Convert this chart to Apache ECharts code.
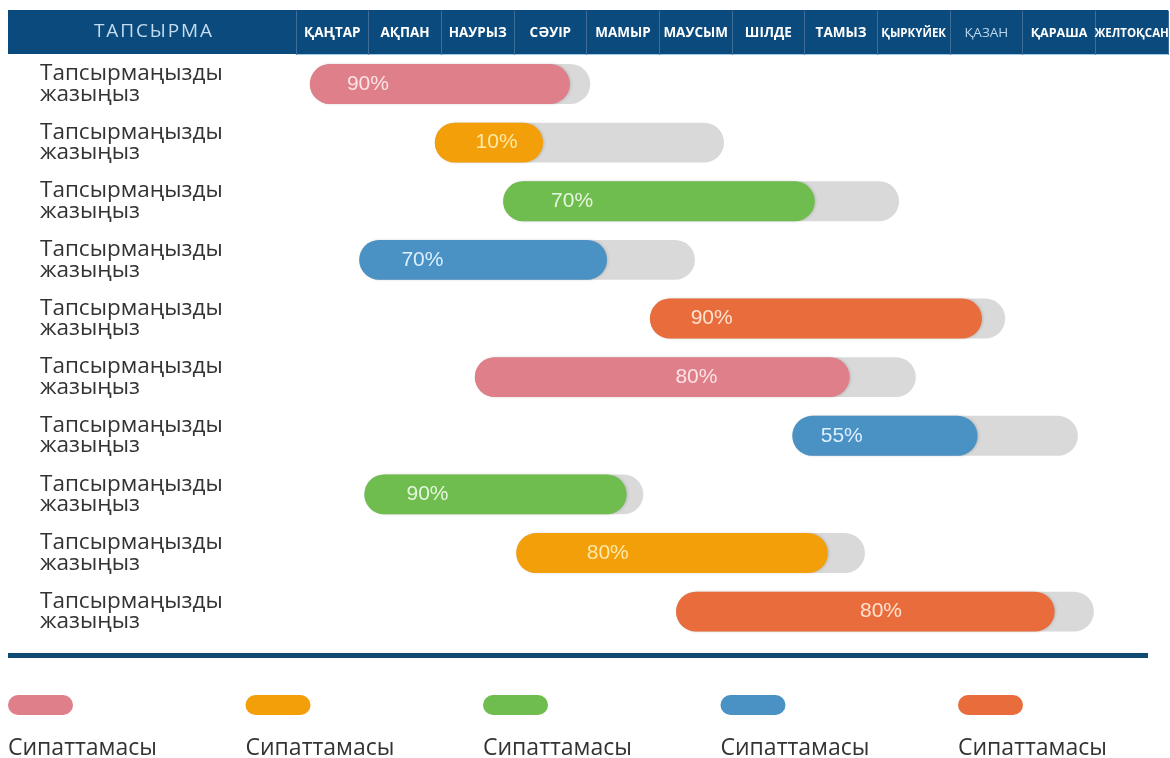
<!DOCTYPE html>
<html>
<head>
<meta charset="utf-8">
<script src="https://cdn.jsdelivr.net/npm/echarts@6/dist/echarts.min.js"></script>
<style>html,body{margin:0;padding:0;background:#fff}#c{width:1170px;height:758px}</style>
</head>
<body>
<div id="c"></div>
<script>
// ---- data ----
var headerTitle = 'ТАПСЫРМА';
var months = ['ҚАҢТАР','АҚПАН','НАУРЫЗ','СӘУІР','МАМЫР','МАУСЫМ','ШІЛДЕ','ТАМЫЗ','ҚЫРКҮЙЕК','ҚАЗАН','ҚАРАША','ЖЕЛТОҚСАН'];
var tasks = ['Тапсырмаңызды жазыңыз','Тапсырмаңызды жазыңыз','Тапсырмаңызды жазыңыз','Тапсырмаңызды жазыңыз','Тапсырмаңызды жазыңыз',
             'Тапсырмаңызды жазыңыз','Тапсырмаңызды жазыңыз','Тапсырмаңызды жазыңыз','Тапсырмаңызды жазыңыз','Тапсырмаңызды жазыңыз'];
// in months from start of January
var startMonth = [0.19, 1.91, 2.85, 0.87, 4.87, 2.46, 6.83, 0.94, 3.03, 5.23];
var endMonth   = [4.05, 5.89, 8.30, 5.49, 9.76, 8.53, 10.76, 4.78, 7.83, 10.98];
var doneMonth  = [3.77, 3.40, 7.14, 4.28, 9.44, 7.62, 9.38, 4.55, 7.32, 10.44];
var percent    = [90, 10, 70, 70, 90, 80, 55, 90, 80, 80];
var labelAt    = [0.99, 2.76, 3.80, 1.74, 5.72, 5.51, 7.51, 1.81, 4.29, 8.05];
var group      = [0, 1, 2, 3, 4, 0, 3, 2, 1, 4];
var legendNames = ['Сипаттамасы','Сипаттамасы','Сипаттамасы','Сипаттамасы','Сипаттамасы'];

// ---- styles ----
var palette = ['#df7f89', '#f39f0a', '#6fbd4f', '#4a91c4', '#e96c3c'];
var labelColors = ['#fbe3e6', '#ffe9a8', '#e6f6dd', '#dcefff', '#ffe2cf'];
var headerBlue = '#0b4a7c';
var monthFontSize = { 'ҚЫРКҮЙЕК': 11.5, 'ЖЕЛТОҚСАН': 11.5, 'ҚАЗАН': 13.5, 'ҚАРАША': 12.5 };

var chart = echarts.init(document.getElementById('c'));
var seriesData = tasks.map(function (t, i) {
  return [i, startMonth[i], endMonth[i], doneMonth[i], percent[i], labelAt[i], group[i]];
});

var graphics = [
  { type: 'rect', z: -10, shape: { x: 8, y: 10, width: 1160, height: 44 }, style: { fill: headerBlue } },
  { type: 'text', z: 10, x: 153, y: 32, style: { text: headerTitle.split('').join('\u200A'), fill: '#c3dcef', font: '19px "Open Sans"', align: 'center', verticalAlign: 'middle' } },
  { type: 'rect', shape: { x: 8, y: 653, width: 1140, height: 5 }, style: { fill: '#0f4a73' } }
];
legendNames.forEach(function (n, i) {
  var x = 8 + 237.5 * i;
  graphics.push({ type: 'rect', shape: { x: x, y: 695, width: 65, height: 20, r: 10 }, style: { fill: palette[i] } });
  graphics.push({ type: 'text', x: x, y: 748, style: { text: n, fill: '#333', font: '23px "Open Sans"', align: 'left', verticalAlign: 'middle' } });
});

chart.setOption({
  animation: false,
  grid: { left: 296, right: 2, top: 54.7, bottom: 117, outerBoundsMode: 'none', containLabel: false },
  xAxis: [
    { type: 'value', min: 0, max: 12, show: false },
    { type: 'category', position: 'top', data: months.map(function (m) {
        var ts = {};
        if (monthFontSize[m]) ts.fontSize = monthFontSize[m];
        if (m === 'ҚАЗАН') { ts.fontWeight = 'normal'; ts.color = '#b9d6ee'; }
        return { value: m, textStyle: ts };
      }),
      boundaryGap: true,
      axisLine: { show: true, lineStyle: { color: '#9fcbe8', width: 1 } },
      axisTick: { show: true, length: 44, interval: 0, lineStyle: { color: '#3d6d98', width: 1 } },
      axisLabel: { interval: 0, margin: 15, color: '#ffffff', fontFamily: 'Open Sans', fontWeight: 'bold', fontSize: 13.5 },
      splitLine: { show: false }
    }
  ],
  yAxis: {
    type: 'category', data: tasks, inverse: true,
    axisLine: { show: false }, axisTick: { show: false }, splitLine: { show: false },
    axisLabel: {
      interval: 0, align: 'left', margin: 256, color: '#333', fontFamily: 'Open Sans', fontSize: 22.5, lineHeight: 20.5,
      padding: [6, 0, 0, 0],
      formatter: function (v) { return v.replace(' ', '\n'); }
    }
  },
  graphic: graphics,
  series: [{
    type: 'custom',
    xAxisIndex: 0,
    encode: { x: [1, 2, 3, 5], y: 0 },
    data: seriesData,
    renderItem: function (params, api) {
      var row = api.value(0);
      var y = api.coord([0, row])[1];
      var x0 = api.coord([api.value(1), row])[0];
      var x1 = api.coord([api.value(2), row])[0];
      var xp = api.coord([api.value(3), row])[0];
      var xl = api.coord([api.value(5), row])[0];
      var g = api.value(6);
      var h = api.size([0, 1])[1] * 0.68;
      return {
        type: 'group',
        children: [
          { type: 'rect', shape: { x: x0, y: y - h / 2, width: x1 - x0, height: h, r: h / 2 }, style: { fill: '#d9d9d9' } },
          { type: 'rect', shape: { x: x0, y: y - h / 2, width: xp - x0, height: h, r: h / 2 }, style: { fill: palette[g], shadowBlur: 3, shadowColor: 'rgba(0,0,0,0.15)', shadowOffsetX: 1 } },
          { type: 'text', x: xl, y: y, style: { text: api.value(4) + '%', fill: labelColors[g], font: '21px "Liberation Sans"', align: 'center', verticalAlign: 'middle' } }
        ]
      };
    }
  }]
});
</script>
</body>
</html>
